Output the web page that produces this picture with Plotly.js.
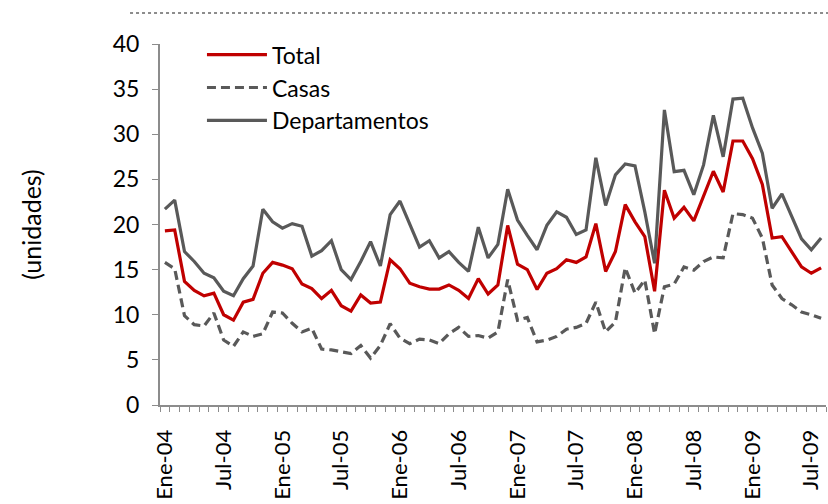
<!DOCTYPE html>
<html>
<head>
<meta charset="utf-8">
<script src="https://cdn.plot.ly/plotly-3.0.1.min.js"></script>
<style>html,body{margin:0;padding:0;background:#fff;}#chart{width:828px;height:504px;}</style>
</head>
<body>
<div id="chart"></div>
<script>
const monthNames = ["Ene","Feb","Mar","Abr","May","Jun","Jul","Ago","Sep","Oct","Nov","Dic"];
const years = ["04","05","06","07","08","09"];
const nMonths = 68;
const categories = [];
for (let k = 0; k < nMonths; k++) {
  categories.push(monthNames[k % 12] + "-" + years[Math.floor(k / 12)]);
}

const total = [19.3,19.4,13.7,12.7,12.1,12.4,10.0,9.4,11.4,11.7,14.6,15.8,
  15.5,15.1,13.4,12.9,11.8,12.7,11.0,10.4,12.2,11.3,11.4,16.1,
  15.1,13.5,13.1,12.85,12.85,13.3,12.7,11.8,14.0,12.3,13.3,19.9,
  15.6,15.0,12.8,14.6,15.1,16.1,15.8,16.4,20.1,14.8,17.0,22.2,
  20.3,18.65,12.6,23.8,20.7,21.9,20.4,23.1,25.9,23.6,29.25,29.25,
  27.3,24.45,18.5,18.65,17.0,15.3,14.6,15.2];

const casas = [15.8,15.1,9.9,8.9,8.75,10.2,7.2,6.5,8.1,7.6,7.9,10.3,
  10.2,9.05,8.1,8.5,6.2,6.1,5.9,5.7,6.6,5.2,6.6,9.0,
  7.4,6.8,7.3,7.2,6.8,7.9,8.6,7.6,7.7,7.4,8.1,13.9,
  9.4,9.7,7.0,7.2,7.6,8.4,8.6,9.05,11.4,8.1,9.2,15.2,
  12.4,13.85,7.9,13.1,13.4,15.3,14.95,15.9,16.4,16.3,21.2,21.1,
  20.7,18.5,13.3,11.8,11.1,10.3,10.0,9.6];

const departamentos = [21.7,22.7,17.0,15.9,14.6,14.1,12.6,12.1,14.0,15.4,21.7,20.3,
  19.6,20.1,19.8,16.5,17.1,18.2,15.0,13.9,15.9,18.1,15.4,21.1,
  22.6,20.1,17.5,18.2,16.3,17.0,15.8,14.8,19.7,16.3,17.8,23.9,
  20.5,18.8,17.2,19.9,21.4,20.8,18.9,19.4,27.4,22.1,25.5,26.7,
  26.5,21.4,15.7,32.7,25.85,26.0,23.3,26.6,32.1,27.5,33.9,34.0,
  30.7,27.9,21.8,23.4,20.9,18.4,17.2,18.5];

const tickText = categories.map((c, k) => (k % 6 === 0 ? c : ""));

const fontFam = "Lato, 'Open Sans', 'Liberation Sans', sans-serif";
const axisColor = "#8c8c8c";

const traces = [
  {x: categories, y: total, name: "Total", type: "scatter", mode: "lines",
   line: {color: "#C00000", width: 3.2}},
  {x: categories, y: casas, name: "Casas", type: "scatter", mode: "lines",
   line: {color: "#595959", width: 3.2, dash: "9px,5px"}},
  {x: categories, y: departamentos, name: "Departamentos", type: "scatter", mode: "lines",
   line: {color: "#595959", width: 3.2}}
];

const layout = {
  width: 828, height: 504,
  margin: {l: 160, r: 2, t: 44, b: 99},
  paper_bgcolor: "#fff", plot_bgcolor: "#fff",
  font: {family: fontFam, size: 22, color: "#000"},
  showlegend: true,
  legend: {x: 0.063, y: 1.03, xanchor: "left", yanchor: "top",
    bgcolor: "rgba(0,0,0,0)", font: {family: fontFam, size: 23, color: "#000"},
    tracegroupgap: 0, itemwidth: 60},
  xaxis: {
    type: "category", categoryorder: "array", categoryarray: categories,
    tickvals: categories, ticktext: tickText, tickangle: -90,
    tickson: "boundaries", ticks: "outside", ticklen: 5, tickcolor: axisColor, tickwidth: 1,
    showline: true, linecolor: axisColor, linewidth: 2,
    showgrid: false, zeroline: false,
    tickfont: {family: fontFam, size: 22, color: "#000"},
    ticklabelstandoff: 14,
    range: [-0.5, nMonths - 0.5], automargin: false
  },
  yaxis: {
    range: [0, 40], dtick: 5, tick0: 0,
    ticks: "outside", ticklen: 6, tickcolor: axisColor, tickwidth: 1,
    showline: true, linecolor: axisColor, linewidth: 2,
    showgrid: false, zeroline: false,
    tickfont: {family: fontFam, size: 23, color: "#000"},
    ticklabelstandoff: 8,
    title: {text: "(unidades)", font: {family: fontFam, size: 25, color: "#000"}, standoff: 64},
    automargin: false
  },
  shapes: [
    {type: "line", xref: "paper", yref: "paper", x0: -0.045, x1: 1.003, y0: 1.086, y1: 1.086,
     line: {color: "#8c8c8c", width: 2, dash: "dot"}}
  ]
};

Plotly.newPlot("chart", traces, layout, {displayModeBar: false, staticPlot: true});
</script>
</body>
</html>
